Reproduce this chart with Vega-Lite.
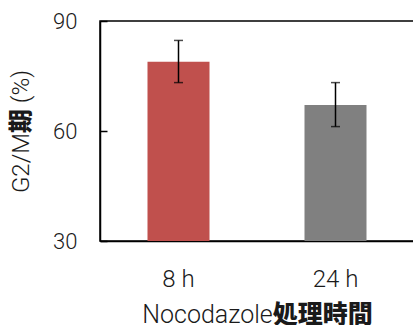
{
  "$schema": "https://vega.github.io/schema/vega-lite/v6.json",
  "width": 314,
  "height": 220,
  "autosize": {"type": "none"},
  "padding": {"left": 100, "top": 21, "right": 0, "bottom": 84},
  "background": "white",
  "config": {
    "view": {"stroke": "black", "strokeWidth": 1.5},
    "font": "Roboto, 'Noto Sans CJK JP Black', 'Noto Sans CJK JP'",
    "axis": {"grid": false, "domainColor": "black", "domainWidth": 1.5, "labelColor": "#1a1a1a", "titleColor": "#1a1a1a", "titleFontWeight": 300, "labelFontWeight": 300, "labelFont": "Roboto", "titleFont": "Roboto, 'Noto Sans CJK JP Black', 'Noto Sans CJK JP'"}
  },
  "data": {
    "values": [
      {"time": "8 h", "value": 78.9, "lo": 73.2, "hi": 84.7, "color": "#C0504D"},
      {"time": "24 h", "value": 67.1, "lo": 61.2, "hi": 73.2, "color": "#808080"}
    ]
  },
  "encoding": {
    "x": {
      "field": "time",
      "type": "nominal",
      "sort": ["8 h", "24 h"],
      "scale": {"paddingInner": 0, "paddingOuter": 0},
      "axis": {"title": "Nocodazole処理時間", "labelAngle": 0, "ticks": false, "labelFontSize": 24, "labelPadding": 26, "titleFontSize": 25, "titlePadding": 11}
    }
  },
  "layer": [
    {
      "mark": {"type": "bar", "width": {"band": 0.395}},
      "encoding": {
        "y": {
          "field": "value",
          "type": "quantitative",
          "scale": {"domain": [30, 90], "zero": false, "nice": false},
          "axis": {"title": "G2/M期 (%)", "values": [30, 60, 90], "tickSize": -7, "tickColor": "black", "tickWidth": 1.5, "labelFontSize": 22, "labelPadding": 30, "titleFontSize": 24, "titlePadding": 19}
        },
        "y2": {"datum": 30},
        "color": {"field": "color", "type": "nominal", "scale": null, "legend": null}
      }
    },
    {
      "mark": {"type": "rule", "color": "black", "strokeWidth": 1.5},
      "encoding": {
        "y": {"field": "lo", "type": "quantitative"},
        "y2": {"field": "hi"}
      }
    },
    {
      "mark": {"type": "tick", "color": "black", "thickness": 1.5, "size": 9},
      "encoding": {"y": {"field": "lo", "type": "quantitative"}}
    },
    {
      "mark": {"type": "tick", "color": "black", "thickness": 1.5, "size": 9},
      "encoding": {"y": {"field": "hi", "type": "quantitative"}}
    }
  ]
}
